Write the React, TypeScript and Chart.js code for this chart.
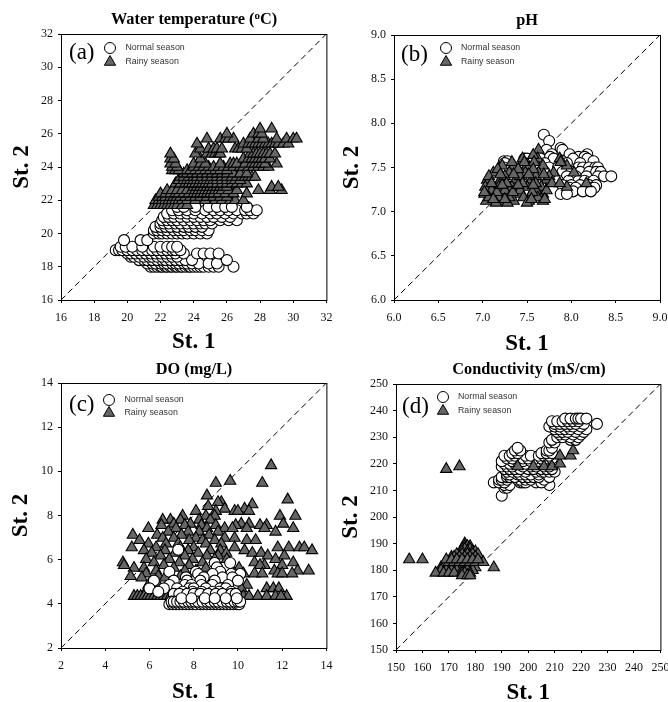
import React, { useEffect, useRef } from "react";
import { Chart, registerables } from "chart.js";

Chart.register(...registerables);

// Every row is [St. 2 value, then the St. 1 values read along that row]
const tempNormal = [
  [18.0, 21.4, 21.6, 21.8, 22.0, 22.1, 22.3, 22.4, 22.6, 22.7, 22.9, 23.0, 23.2, 23.3, 23.5, 23.7, 23.8, 24.0, 24.2, 24.4, 24.6, 24.9, 25.2, 25.5, 26.4],
  [18.2, 21.2, 21.5, 21.7, 22.0, 22.2, 22.4, 22.7, 22.9, 23.1, 23.4, 23.6, 23.9, 24.3, 24.9, 25.4],
  [18.4, 20.7, 21.0, 21.2, 21.5, 21.8, 22.1, 22.3, 22.6, 22.9, 23.2, 23.5, 23.9, 26.0],
  [18.6, 20.2, 20.4, 20.7, 21.0, 21.3, 21.5, 21.8, 22.1, 22.4, 22.7, 23.0],
  [18.8, 20.0, 20.2, 20.5, 20.8, 21.1, 21.4, 21.7, 22.0, 22.3, 22.6, 22.9, 23.4, 24.2, 24.6, 25.0, 25.5],
  [19.0, 19.3, 19.5, 19.7, 20.0, 20.3, 20.6, 20.9, 21.2, 21.5, 21.8, 22.1, 22.4, 22.7, 22.9, 23.2],
  [19.2, 19.6, 19.9, 20.3, 20.9, 21.6, 22.0, 22.4, 22.7, 23.0],
  [19.6, 19.8, 20.8, 21.2],
  [20.0, 21.6, 21.9, 22.1, 22.4, 22.7, 23.0, 23.3, 23.6, 24.0, 24.4, 24.8],
  [20.2, 21.6, 21.8, 22.1, 22.4, 22.8, 23.1, 23.4, 23.8, 24.1, 24.5, 24.9],
  [20.4, 21.7, 22.0, 22.3, 22.6, 23.0, 23.4, 23.7, 24.1, 24.5],
  [20.6, 22.0, 22.2, 22.5, 22.9, 23.2, 23.6, 24.0, 24.4, 24.7, 25.1],
  [20.8, 22.1, 22.4, 22.7, 23.0, 23.4, 23.8, 24.2, 24.6, 25.0, 25.6, 26.1, 26.6],
  [21.0, 22.2, 22.5, 22.8, 23.2, 23.6, 24.0, 24.4, 24.8, 25.2, 25.7, 26.2],
  [21.2, 22.4, 22.8, 23.2, 23.6, 24.0, 24.5, 25.0, 25.4, 25.9, 26.4, 26.9, 27.2, 27.6],
  [21.4, 22.7, 23.1, 23.6, 24.1, 24.7, 25.2, 25.6, 26.1, 26.6, 27.1, 27.4, 27.8],
  [21.6, 23.0, 23.4, 24.1, 24.9, 25.4, 25.9, 26.3, 27.2],
];
const tempRainy = [
  [21.7, 21.6, 21.8, 22.0, 22.2, 22.4, 22.6, 22.8, 23.0, 23.3, 23.6],
  [22.0, 21.7, 21.9, 22.1, 22.3, 22.5, 22.7, 22.9, 23.1, 23.3, 23.6, 24.1, 24.7, 25.3, 25.7, 26.2, 26.5, 27.0],
  [22.2, 21.9, 22.1, 22.3, 22.6, 22.8, 23.0, 23.2, 23.5, 23.8, 24.1, 24.4, 24.8, 25.2, 25.6, 26.0],
  [22.4, 22.0, 22.3, 22.6, 22.9, 23.1, 23.4, 23.7, 24.0, 24.2, 24.4, 24.6, 24.8, 25.0, 25.2, 25.5, 25.9, 26.4, 27.2],
  [22.6, 22.4, 22.7, 23.0, 23.3, 23.6, 23.9, 24.1, 24.3, 24.5, 24.7, 24.9, 25.1, 25.3, 25.5, 25.7, 26.1, 26.6, 27.9, 28.6, 29.3],
  [22.8, 24.0, 24.2, 24.4, 24.6, 24.8, 25.0, 25.2, 25.4, 25.6, 25.8, 26.0, 28.7, 29.1],
  [23.0, 22.9, 23.2, 23.5, 23.7, 23.9, 24.1, 24.3, 24.5, 24.7, 24.9, 25.1, 25.4, 25.7, 26.0, 26.3, 26.6, 26.9, 27.2],
  [23.2, 23.1, 23.4, 23.6, 23.8, 24.0, 24.2, 24.4, 24.6, 24.8, 25.0, 25.2, 25.4, 25.7, 26.0, 26.3, 26.5, 26.8],
  [23.4, 23.2, 23.4, 23.7, 24.0, 24.2, 24.5, 24.8, 25.1, 25.4, 25.7, 26.0, 26.3, 26.6, 26.9, 27.1, 27.3, 27.5, 27.7],
  [23.6, 23.4, 23.6, 23.9, 24.2, 24.5, 24.8, 25.1, 25.4, 25.7, 26.0, 26.4, 26.8, 27.2],
  [23.8, 22.7, 22.9, 23.1, 23.6, 23.8, 24.1, 24.4, 24.7, 25.0, 25.3, 25.6, 26.0],
  [24.0, 22.7, 23.0, 24.0, 24.3, 24.6, 24.9, 25.2, 25.5, 25.8, 26.1, 26.4, 26.8, 27.0, 27.3, 27.6, 27.9, 28.2, 28.5],
  [24.2, 22.6, 22.9, 24.0, 24.4, 24.7, 25.6, 26.2, 26.4, 26.6, 27.1, 27.5, 27.7, 27.9, 28.1, 28.3, 29.0],
  [24.5, 22.6, 22.8, 24.4, 27.0, 27.3, 27.5, 27.7, 27.9, 28.1, 28.3, 28.6],
  [24.8, 22.6, 24.1, 24.8, 25.1, 25.3, 25.5, 25.6, 27.4, 27.6, 27.8, 28.0, 28.2, 28.4, 28.6, 28.9],
  [25.1, 24.4, 24.9, 25.2, 25.4, 25.7, 26.5, 26.7, 26.9, 27.2],
  [25.4, 24.2, 27.0, 27.3, 27.5, 27.7, 27.9, 28.1, 28.3, 28.5, 28.7, 28.9, 29.1, 29.4, 29.7],
  [25.7, 24.8, 25.6, 25.9, 26.1, 26.4, 27.4, 27.9, 28.2, 29.0, 29.6, 30.0, 30.2],
  [26.0, 26.0, 27.6, 27.9, 28.1],
  [26.3, 28.0, 28.7],
];

const phNormal = [
  [7.87, 7.69],
  [7.8, 7.75],
  [7.72, 7.88],
  [7.7, 7.72, 7.9],
  [7.65, 7.78, 7.98, 8.18],
  [7.62, 7.76, 8.08, 8.15],
  [7.6, 7.47, 7.5, 7.8, 8.02, 8.18],
  [7.57, 7.24, 7.28, 7.9, 8.25],
  [7.55, 7.25, 7.47, 7.7, 7.95, 8.1],
  [7.5, 7.24, 7.75, 7.85, 8.08, 8.13, 8.2, 8.27, 8.3],
  [7.45, 7.7, 7.9, 8.0, 8.1, 8.2, 8.28, 8.33],
  [7.4, 7.3, 7.55, 7.8, 7.95, 8.05, 8.17, 8.3, 8.37, 8.45],
  [7.35, 7.85, 7.97, 8.08, 8.15, 8.25],
  [7.3, 7.4, 7.65, 7.9, 8.0, 8.1, 8.2, 8.28],
  [7.27, 7.98, 8.05, 8.22, 8.26],
  [7.23, 8.02, 8.13, 8.22],
  [7.2, 7.88, 7.95],
];
const phRainy = [
  [7.7, 7.63],
  [7.6, 7.45, 7.62, 7.87],
  [7.36, 7.05, 7.2, 7.37, 7.55, 7.72],
  [7.52, 7.22, 7.35, 7.5, 7.68, 7.95],
  [7.2, 7.02, 7.13, 7.27, 7.4, 7.55, 7.68],
  [7.64, 7.57],
  [7.44, 7.12, 7.3, 7.48, 7.63, 7.8, 8.03],
  [7.28, 7.03, 7.18, 7.33, 7.5, 7.66, 7.95],
  [7.12, 7.04, 7.2, 7.35, 7.52, 7.68],
  [7.56, 7.33, 7.47, 7.58, 7.88],
  [7.4, 7.07, 7.25, 7.42, 7.6, 7.75],
  [7.24, 7.1, 7.25, 7.42, 7.6, 7.72],
  [7.48, 7.17, 7.4, 7.57],
  [7.32, 7.1, 7.27, 7.45, 7.6, 7.78, 7.87, 8.17],
  [7.16, 7.07, 7.18, 7.3, 7.46, 7.62],
  [7.1, 7.15, 7.28, 7.5],
  [7.42, 7.2, 7.35, 7.52, 7.69],
  [7.22, 7.02, 7.16, 7.34, 7.56],
  [7.3, 7.22, 7.4, 7.57],
  [7.14, 7.12, 7.25, 7.55, 7.7],
];

const doRainy = [
  [10.27, 11.5],
  [9.56, 9.65],
  [9.47, 9.0, 11.1],
  [8.9, 8.6],
  [8.72, 12.25],
  [8.6, 9.25, 9.1],
  [8.5, 10.65],
  [8.42, 8.65],
  [8.3, 9.4, 10.3],
  [8.2, 9.0, 9.85, 8.1, 10.5, 10.0],
  [7.98, 7.5, 8.55, 8.95, 11.9, 12.6],
  [7.8, 6.95, 6.6, 7.4, 8.25, 8.75],
  [7.62, 7.85, 10.15, 10.5, 12.05, 7.1],
  [7.56, 6.54, 7.6, 8.35, 9.0, 9.9, 11.0, 11.3],
  [7.42, 5.95, 7.2, 8.6, 9.4, 9.75, 10.4, 12.5, 11.2],
  [7.26, 6.85, 7.75, 8.25, 9.1, 11.7],
  [7.12, 5.25, 6.35, 7.45, 8.7],
  [6.98, 7.1, 8.1, 6.6, 9.4, 9.85],
  [6.88, 5.55, 8.95, 7.8, 10.4, 10.8, 8.4],
  [6.72, 5.95, 7.3, 6.75, 8.55, 9.25],
  [6.55, 6.3, 5.2, 8.0, 9.85, 11.8, 12.3, 12.78, 13.0, 7.4],
  [6.42, 6.7, 8.75, 9.2, 10.3, 13.35, 5.75, 7.75],
  [6.3, 9.47, 8.2, 7.15, 10.65, 11.05, 6.1],
  [6.18, 6.5, 8.6, 7.6, 11.35, 12.1, 9.1],
  [6.02, 5.85, 7.95, 6.9, 8.95, 9.5, 11.7],
  [5.87, 4.8, 7.35, 8.4, 6.2, 10.75, 12.5],
  [5.75, 4.85, 6.65, 7.8, 9.1, 11.2, 12.0, 11.0],
  [5.62, 5.75, 7.1, 5.3, 8.55, 10.05],
  [5.5, 6.3, 7.6, 13.2, 12.7, 8.1, 11.65],
  [5.37, 6.9, 5.85, 10.75, 11.1, 11.8, 12.0, 12.45, 10.25, 9.85],
  [5.25, 5.15, 7.4, 6.4],
  [5.18, 5.65, 6.7],
  [4.85, 10.4, 5.95, 6.4],
  [4.7, 11.3, 11.6, 11.85, 10.15, 6.05],
  [4.5, 5.8, 6.3, 6.75, 6.95],
  [4.35, 5.3, 5.45, 5.6, 5.75, 5.9, 6.05, 6.2, 6.35, 6.5, 6.65, 6.8, 6.95, 10.25, 10.5, 10.9, 11.3, 11.7, 12.2, 11.95],
];
const doNormal = [
  [6.45, 7.3],
  [5.85, 8.95, 9.65],
  [5.65, 9.05],
  [5.45, 6.9, 8.1, 9.2],
  [5.35, 8.2, 8.85, 9.7, 10.1],
  [5.2, 7.65, 8.45, 9.3, 9.75],
  [5.05, 6.2, 7.1, 7.7, 8.3, 8.95, 10.0],
  [4.85, 6.9, 7.6, 7.9, 8.35, 8.85, 9.55],
  [4.7, 6.0, 6.65, 7.25, 7.8, 8.0, 8.55, 9.2, 9.45],
  [4.55, 6.4, 7.5, 7.95, 8.35, 8.85, 9.15, 9.7],
  [4.45, 7.1, 7.35, 7.7, 8.0, 8.3, 8.65, 9.0, 9.3, 9.7, 9.9],
  [3.98, 6.9, 7.05, 7.2, 7.35, 7.5, 7.65, 7.8, 7.95, 8.1, 8.3, 8.45, 8.6, 8.75, 8.9, 9.05, 9.2, 9.35, 9.5, 9.65, 9.8, 9.95, 10.05],
  [4.1, 7.0, 7.1, 7.25, 7.4, 7.55, 7.75, 7.9, 8.05, 8.2, 8.4, 8.6, 8.75, 8.95, 9.1, 9.3, 9.5, 9.65, 9.85, 10.0, 10.1],
  [4.25, 7.45, 7.9, 8.5, 8.95, 9.45, 9.95],
];

const condNormal = [
  [208, 190],
  [211, 191, 192],
  [212, 191, 193, 208],
  [213, 187, 189, 191, 197, 198, 199, 203, 205],
  [214, 189, 190, 192, 196, 197, 199, 201, 206],
  [215, 190, 192, 193, 195, 198, 200, 202, 204, 208],
  [216, 192, 193, 196, 197, 199, 201, 204],
  [217, 192, 194, 196, 199, 203, 205, 206, 208, 210],
  [218, 191, 193, 195, 197, 200, 202, 205, 207, 209],
  [219, 190, 192, 194, 198, 201, 203, 206, 208],
  [220, 191, 193, 195, 199, 203, 205, 207, 209],
  [221, 190, 194, 196, 198, 201, 204, 206],
  [222, 192, 194, 198, 200, 203, 205, 207, 209],
  [223, 191, 193, 195, 199, 201, 204, 206, 208],
  [224, 194, 196, 205, 207, 209],
  [225, 195, 197, 207, 208],
  [226, 196, 209],
  [228, 208, 210],
  [229, 209, 216, 218],
  [230, 211, 213, 216, 219],
  [231, 212, 214, 217, 220],
  [232, 211, 213, 215, 218, 221],
  [233, 210, 212, 214, 216, 219, 222],
  [234, 208, 210, 212, 215, 217, 220],
  [235, 210, 212, 214, 216, 218, 221, 226],
  [236, 209, 211, 213, 215, 217, 219],
  [237, 214, 216, 218, 219, 220, 222],
];
const condRainy = [
  [190, 176],
  [189, 176, 177, 178],
  [188, 175, 176, 178],
  [187, 175, 177, 179, 180],
  [186, 173, 175, 177, 179, 181],
  [185, 171, 172, 174, 176, 178, 180],
  [182, 168, 170, 171, 173, 175, 177, 179],
  [181, 167, 168, 170, 172, 174, 176, 178, 180, 187],
  [180, 167, 169, 171, 173, 175, 177, 179],
  [179, 165, 168, 170, 172, 175, 176, 178],
  [178, 175, 177, 178],
  [183, 170, 172, 174, 176, 178, 180, 183],
  [184, 155, 160, 169, 171, 173, 175, 177, 179, 181],
  [218, 169],
  [219, 174, 196, 202, 206, 209],
  [220, 212],
  [223, 212, 216],
  [225, 217],
];

const tempTicks = [16, 32, 2];
const phTicks = [6, 9, 0.5];
const doTicks = [2, 14, 2];
const condTicks = [150, 250, 10];
const seasonNames = ["Normal season", "Rainy season"];

const SERIF = "'Liberation Serif', 'Times New Roman', serif";
const SANS = "'Liberation Sans', Arial, sans-serif";
const toPoints = (rows: number[][]) => rows.flatMap(([y, ...xs]) => xs.map((x) => ({ x, y })));

const panels = [
  {
    left: 0, top: 0, plot: [61, 34, 327, 300], ticks: tempTicks, normal: tempNormal, rainy: tempRainy, rainyOnTop: true,
    tag: "(a)", tagAt: [69, 53], titleY: 19, legend: [110, 48, 62], legendText: 125.5, xTitlePad: -3, yTitlePad: 11,
    title: [{ t: "Water temperature (" }, { t: "o", sup: true }, { t: "C)" }],
  },
  {
    left: 334, top: 0, plot: [60, 35, 326, 300], ticks: phTicks, normal: phNormal, rainy: phRainy, rainyOnTop: true,
    tag: "(b)", tagAt: [67, 55], titleY: 20, legend: [112, 48, 62], legendText: 127, xTitlePad: -5, yTitlePad: 7,
    title: [{ t: "pH" }],
  },
  {
    left: 0, top: 351, plot: [61, 32, 327, 297], ticks: doTicks, normal: doNormal, rainy: doRainy, rainyOnTop: false,
    tag: "(c)", tagAt: [69, 54], titleY: 18, legend: [109, 49, 62], legendText: 124.5, xTitlePad: -2, yTitlePad: 10,
    title: [{ t: "DO (mg/L)" }],
  },
  {
    left: 334, top: 351, plot: [62, 33, 328, 299], ticks: condTicks, normal: condNormal, rainy: condRainy, rainyOnTop: true,
    tag: "(d)", tagAt: [68, 56], titleY: 18, legend: [109, 46, 60], legendText: 124, xTitlePad: -3, yTitlePad: 6,
    title: [{ t: "Conductivity (m" }, { t: "S", italic: true }, { t: "/cm)" }],
  },
];

const FILL_RAINY = "#666666";
const drawTriangle = (ctx: CanvasRenderingContext2D, x: number, y: number, r: number) => {
  ctx.beginPath();
  ctx.moveTo(x, y - r);
  ctx.lineTo(x + r * 0.866, y + r / 2);
  ctx.lineTo(x - r * 0.866, y + r / 2);
  ctx.closePath();
  ctx.fill();
  ctx.stroke();
};

function Panel({ p }: { p: (typeof panels)[number] }) {
  const ref = useRef<HTMLCanvasElement>(null);
  useEffect(() => {
    const [x0, y0, x1, y1] = p.plot;
    const W = 334;
    const H = 351;
    const [min, max, step] = p.ticks;
    const decor = {
      id: "decor",
      beforeDatasetsDraw(chart: any) {
        const { ctx, chartArea: a } = chart;
        ctx.save();
        ctx.strokeStyle = "#000";
        ctx.lineWidth = 1;
        ctx.strokeRect(a.left + 0.5, a.top + 0.5, a.right - a.left, a.bottom - a.top);
        ctx.restore();
      },
      afterDraw(chart: any) {
        const { ctx } = chart;
        ctx.save();
        // Title, made of runs for the superscript and the italic
        const fontOf = (r: any) =>
          `${r.italic ? "italic " : ""}bold ${r.sup ? 11 : 16.3}px ${SERIF}`;
        let total = 0;
        p.title.forEach((r: any) => {
          ctx.font = fontOf(r);
          total += ctx.measureText(r.t).width;
        });
        let cx = (x0 + x1) / 2 - total / 2;
        ctx.textBaseline = "alphabetic";
        ctx.textAlign = "left";
        ctx.fillStyle = "#000";
        p.title.forEach((r: any) => {
          ctx.font = fontOf(r);
          ctx.fillText(r.t, cx, p.titleY + (r.sup ? 0 : 5));
          cx += ctx.measureText(r.t).width;
        });
        // Panel tag
        ctx.font = `23px ${SERIF}`;
        ctx.textBaseline = "middle";
        ctx.fillText(p.tag, p.tagAt[0], p.tagAt[1]);
        // Legend
        const [mx, yA, yB] = p.legend;
        ctx.strokeStyle = "#000";
        ctx.lineWidth = 1;
        ctx.fillStyle = "#fff";
        ctx.beginPath();
        ctx.arc(mx, yA, 5.5, 0, Math.PI * 2);
        ctx.fill();
        ctx.stroke();
        ctx.fillStyle = FILL_RAINY;
        drawTriangle(ctx, mx, yB, 6.5);
        ctx.font = `8.8px ${SANS}`;
        ctx.fillStyle = "#333";
        ctx.fillText(seasonNames[0], p.legendText, yA);
        ctx.fillText(seasonNames[1], p.legendText, yB);
        ctx.restore();
      },
    };
    const axis = (size: number, tickPad: number) => ({
      type: "linear" as const,
      min,
      max,
      ticks: {
        stepSize: step,
        color: "#111",
        padding: tickPad,
        maxRotation: 0,
        autoSkip: false,
        font: { family: SERIF, size: 12 },
      },
      border: { display: false },
      grid: { drawOnChartArea: false, drawTicks: true, tickLength: 3, color: "#000", lineWidth: 1 },
      afterFit(s: any) {
        if (s.isHorizontal()) s.height = size;
        else s.width = size;
        s.paddingLeft = s.paddingRight = s.paddingTop = s.paddingBottom = 0;
      },
    });
    const titleOf = (text: string, pad: number) => ({
      display: true,
      text,
      color: "#000",
      font: { family: SERIF, size: 23, weight: "bold" as const, lineHeight: 1 },
      padding: { top: pad, bottom: pad },
    });
    const xAxis = { ...axis(H - y1, 8), title: titleOf("St. 1", p.xTitlePad) };
    const yAxis = { ...axis(x0, 5), title: titleOf("St. 2", p.yTitlePad) };
    const chart = new Chart(ref.current!, {
      type: "scatter",
      data: {
        datasets: [
          {
            label: seasonNames[0],
            data: toPoints(p.normal),
            pointStyle: "circle",
            pointRadius: 5.5,
            backgroundColor: "#ffffff",
            borderColor: "#000000",
            borderWidth: 1.1,
            order: p.rainyOnTop ? 2 : 1,
          },
          {
            label: seasonNames[1],
            data: toPoints(p.rainy),
            pointStyle: "triangle",
            pointRadius: 6.5,
            backgroundColor: FILL_RAINY,
            borderColor: "#000000",
            borderWidth: 1.1,
            order: p.rainyOnTop ? 1 : 2,
          },
          {
            label: "1:1",
            data: [
              { x: min, y: min },
              { x: max, y: max },
            ],
            showLine: true,
            pointRadius: 0,
            borderColor: "#000000",
            borderWidth: 1,
            borderDash: [6, 4],
            order: 3,
          },
        ],
      },
      options: {
        responsive: false,
        animation: false,
        layout: { padding: { left: 0, top: y0, right: W - x1, bottom: 0 } },
        plugins: { legend: { display: false }, title: { display: false }, tooltip: { enabled: false } },
        scales: { x: xAxis, y: yAxis },
      },
      plugins: [decor],
    } as any);
    return () => chart.destroy();
  }, [p]);
  return (
    <canvas
      ref={ref}
      width={334}
      height={351}
      style={{ position: "absolute", left: p.left, top: p.top, width: 334, height: 351 }}
    />
  );
}

export default function App() {
  return (
    <div style={{ position: "absolute", left: 0, top: 0, width: 668, height: 702, background: "#fff", overflow: "hidden" }}>
      {panels.map((p) => (
        <Panel key={p.tag} p={p} />
      ))}
    </div>
  );
}
